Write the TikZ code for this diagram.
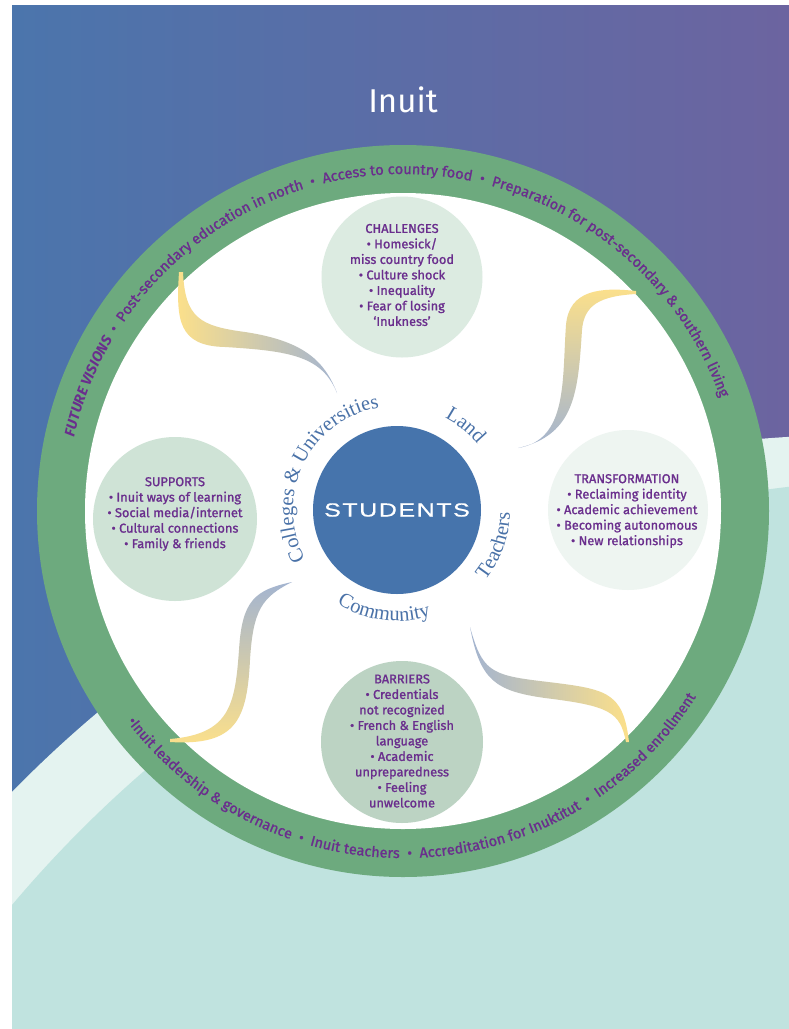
\documentclass[tikz,border=0pt]{standalone}
\usepackage{fontspec}
\setmainfont{Fira Sans}
\newfontfamily\medsans[FakeBold=1.2]{Fira Sans}
\newfontfamily\labelserif{Liberation Serif}
\newfontfamily\studentsfont[LetterSpace=6,FakeBold=0.6]{Liberation Sans}
\usetikzlibrary{decorations.text,positioning}

\definecolor{bgblue}{HTML}{4B75AC}
\definecolor{bgpurple}{HTML}{6C64A0}
\definecolor{palemint}{HTML}{E4F3F0}
\definecolor{tealmint}{HTML}{C0E3DF}
\definecolor{ringgreen}{HTML}{6DAA7E}
\definecolor{txtpurple}{HTML}{6A2E8D}
\definecolor{stublue}{HTML}{4674AC}
\definecolor{lblblue}{HTML}{4A72A8}
\definecolor{swyellow}{HTML}{FCE08A}
\definecolor{swblue}{HTML}{A3B4D0}
\definecolor{chalfill}{HTML}{DCEBE1}
\definecolor{suppfill}{HTML}{CFE3D6}
\definecolor{tranfill}{HTML}{EEF5F1}
\definecolor{barrfill}{HTML}{BCD3C3}

\begin{document}
\begin{tikzpicture}[x=1pt,y=-1pt,
	bubble/.style={circle,inner sep=0pt,minimum size=#1},
	bubbletext/.style={align=center,text=txtpurple,font=\medsans\fontsize{12.8}{15.5}\selectfont},
	ringlabel/.style={decorate,decoration={text along path,text align=center,text color=txtpurple,text={#1}}},
	hublabel/.style={decorate,decoration={text along path,text align=center,text color=lblblue,
		text={|\labelserif\fontsize{20.5}{20.5}\selectfont|#1}}}]
	\useasboundingbox (0,0) rectangle (789,1029);

	% background
	\begin{scope}
		\clip (12,5) rectangle (789,1029);
		\shade[left color=bgblue,right color=bgpurple] (12,5) rectangle (789,1029);
		\fill[palemint] (859.3,1618.4) circle[radius=1183.6];
		\fill[tealmint] (928,1676.2) circle[radius=1197.4];
	\end{scope}

	\node[text=white,font=\fontsize{33}{33}\selectfont] (title) at (403,100) {Inuit};

	% outer ring
	\coordinate (ring) at (403,511);
	\fill[ringgreen] (ring) circle[radius=366];
	\fill[white] (ring) circle[radius=318];

	% the four bubbles
	\node[bubble=161pt,fill=chalfill] (challenges) at (402,277) {};
	\node[bubble=164pt,fill=suppfill] (supports) at (175,519) {};
	\node[bubble=160pt,fill=tranfill] (transformation) at (628,510) {};
	\node[bubble=162pt,fill=barrfill] (barriers) at (402,742) {};

	\node[bubbletext] (challengestxt) at (402,275) {CHALLENGES\\• Homesick/\\miss country food\\• Culture shock\\• Inequality\\• Fear of losing\\‘Inukness’};
	\node[bubbletext] (supportstxt) at (175,514) {SUPPORTS\\• Inuit ways of learning\\• Social media/internet\\• Cultural connections\\• Family \& friends};
	\node[bubbletext] (transformationtxt) at (627,511) {TRANSFORMATION\\• Reclaiming identity\\• Academic achievement\\• Becoming autonomous\\• New relationships};
	\node[bubbletext] (barrierstxt) at (402,741) {BARRIERS\\• Credentials\\not recognized\\• French \& English\\language\\• Academic\\unpreparedness\\• Feeling\\unwelcome};

	% swooshes
	\shade[left color=swyellow,right color=swblue]
		(179,272) .. controls (176,320) and (178,346) .. (225,347) .. controls (290,351) and (322,356) .. (337,393)
		.. controls (325,362) and (305,341) .. (245,332) .. controls (200,326) and (185,318) .. (183,272) -- cycle;
	\shade[top color=swyellow,bottom color=swblue]
		(636,291) .. controls (600,287) and (569,290) .. (566,325) .. controls (562,380) and (568,440) .. (518,448)
		.. controls (576,435) and (578,390) .. (582,330) .. controls (584,305) and (600,296) .. (636,294) -- cycle;
	\shade[top color=swblue,bottom color=swyellow]
		(292,582) .. controls (255,590) and (242,600) .. (239,650) .. controls (235,705) and (230,734) .. (170,739)
		-- (170,742) .. controls (236,746) and (247,720) .. (250,660) .. controls (253,610) and (262,597) .. (292,582) -- cycle;
	\shade[left color=swblue,right color=swyellow]
		(470,627) .. controls (482,670) and (490,675) .. (540,681) .. controls (606,689) and (623,690) .. (629,742)
		-- (626,742) .. controls (620,712) and (610,706) .. (545,698) .. controls (495,691) and (480,680) .. (470,627) -- cycle;

	% hub
	\node[circle,fill=stublue,minimum size=168pt,inner sep=0pt] (students) at (397,510)
		{\color{white}\studentsfont\fontsize{19}{19}\selectfont\scalebox{1.32}[1]{STUDENTS}};
	\path[hublabel={Colleges {\&} Universities}] (students.center) ++(-219:104) arc[start angle=-219,end angle=-89,radius=104];
	\path[hublabel={Land}] (students.center) ++(-81:104) arc[start angle=-81,end angle=-21,radius=104];
	\path[hublabel={Teachers}] (students.center) ++(45:113) arc[start angle=45,end angle=-5,radius=113];
	\path[hublabel={Community}] (students.center) ++(130:111) arc[start angle=130,end angle=65,radius=111];

	% ring texts
	\path[ringlabel={|\fontsize{14.5}{14.5}\selectfont\bfseries\itshape|FUTURE VISIONS|\medsans\fontsize{14.5}{14.5}\selectfont| ~•~ Post-secondary education in north ~•~ Access to country food ~•~ Preparation for post-secondary {\&} southern living}]
		(ring) ++(-175:337) arc[start angle=-175,end angle=-12,radius=337];
	\path[ringlabel={|\medsans\fontsize{14.5}{14.5}\selectfont|•Inuit leadership {\&} governance ~•~ Inuit teachers ~•~ Accreditation for Inuktitut ~•~ Increased enrollment}]
		(ring) ++(152:347) arc[start angle=152,end angle=23,radius=347];
\end{tikzpicture}
\end{document}
